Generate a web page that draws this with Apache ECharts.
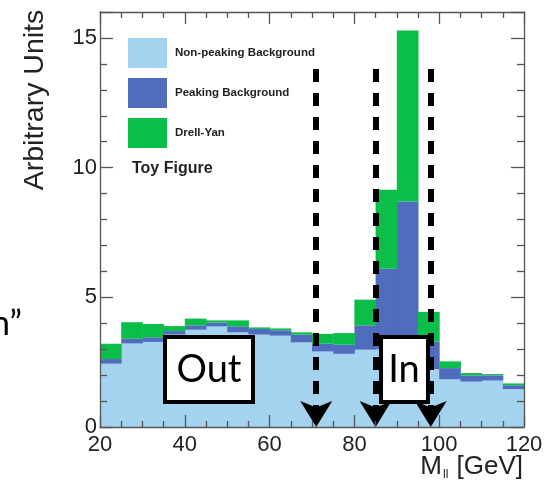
<!DOCTYPE html>
<html>
<head>
<meta charset="utf-8">
<script src="https://cdn.jsdelivr.net/npm/echarts@6/dist/echarts.min.js"></script>
<style>
html,body{margin:0;padding:0;background:#fff;}
#chart{width:552px;height:485px;}
</style>
</head>
<body>
<div id="chart"></div>
<script>
// Bin edges (GeV)
var binEdges = [20, 25, 30, 35, 40, 45, 50, 55, 60, 65, 70, 75, 80, 85, 90, 95, 100, 105, 110, 115, 120];
// Stacked contributions per bin
var nonPeaking = [2.44, 3.22, 3.28, 3.56, 3.75, 3.88, 3.65, 3.56, 3.52, 3.26, 2.91, 2.82, 2.98, 3.00, 3.00, 2.23, 1.84, 1.75, 1.79, 1.46];
var peaking    = [0.18, 0.18, 0.18, 0.14, 0.17, 0.15, 0.23, 0.22, 0.21, 0.30, 0.30, 0.35, 0.94, 3.10, 5.69, 1.07, 0.43, 0.24, 0.20, 0.15];
var drellYan   = [0.59, 0.64, 0.51, 0.19, 0.26, 0.08, 0.23, 0.06, 0.07, 0.09, 0.38, 0.45, 0.99, 3.05, 6.60, 1.14, 0.26, 0.09, 0.05, 0.07];
// Cut positions (GeV) marked by dashed arrows
var cuts = [71, 85, 98];
var cutTop = 13.8;
var seriesNames = ['Non-peaking Background', 'Peaking Background', 'Drell-Yan'];
var seriesColors = ['#a4d3f0', '#4f6dbc', '#0bbe4a'];
var xTickLabels = [20, 40, 60, 80, 100, 120];
var yTickLabels = [0, 5, 10, 15];

var comps = [nonPeaking, peaking, drellYan];
var base = nonPeaking.map(function(){return 0;});
var histSeries = comps.map(function(vals, si){
  var data = vals.map(function(v, i){
    var b = base[i];
    var t = b + v;
    base[i] = t;
    return [binEdges[i], binEdges[i+1], b, t];
  });
  return {
    type: 'custom',
    name: seriesNames[si],
    itemStyle: {color: seriesColors[si]},
    encode: {x: [0, 1], y: [2, 3]},
    data: data,
    z: 2,
    renderItem: function(params, api){
      var p0 = api.coord([api.value(0), api.value(3)]);
      var p1 = api.coord([api.value(1), api.value(2)]);
      return {
        type: 'rect',
        shape: {x: p0[0], y: p0[1], width: p1[0] - p0[0] + 0.5, height: p1[1] - p0[1]},
        style: api.style({stroke: null})
      };
    }
  };
});

var cutSeries = {
  type: 'line',
  data: [],
  silent: true,
  z: 20,
  markLine: {
    silent: true,
    symbol: ['none', 'arrow'],
    symbolSize: [24, 26],
    label: {show: false},
    lineStyle: {color: '#000', width: 6, type: [13, 11], opacity: 1},
    itemStyle: {color: '#000'},
    data: cuts.map(function(c){ return [{coord: [c, cutTop]}, {coord: [c, 0]}]; })
  }
};

var axisCol = '#555';
function xAx(pos, showLabel){
  return {
    type: 'value', min: 20, max: 120, interval: 20, position: pos, z: 10,
    axisLine: {show: true, onZero: false, lineStyle: {color: axisCol, width: 1.3}},
    axisTick: {show: true, inside: true, length: 12, lineStyle: {color: axisCol, width: 1.3}},
    minorTick: {show: true, splitNumber: 4, length: 6, lineStyle: {color: axisCol, width: 1.3}},
    splitLine: {show: false},
    axisLabel: {show: showLabel, fontSize: 22, color: '#222', margin: 7, fontFamily: 'Liberation Sans',
      formatter: function(v){ return xTickLabels.indexOf(v) >= 0 ? String(v) : ''; }}
  };
}
function yAx(pos, showLabel){
  return {
    type: 'value', min: 0, max: 16, interval: 5, position: pos, z: 10,
    axisLine: {show: true, onZero: false, lineStyle: {color: axisCol, width: 1.3}},
    axisTick: {show: true, inside: true, length: 13, lineStyle: {color: axisCol, width: 1.3}},
    minorTick: {show: true, splitNumber: 5, length: 7, lineStyle: {color: axisCol, width: 1.3}},
    splitLine: {show: false},
    axisLabel: {show: showLabel, fontSize: 22, color: '#222', margin: 3, fontFamily: 'Liberation Sans',
      showMaxLabel: false,
      formatter: function(v){ return yTickLabels.indexOf(v) >= 0 ? String(v) : ''; }}
  };
}

var chart = echarts.init(document.getElementById('chart'), null, {renderer: 'canvas'});
chart.setOption({
  animation: false,
  backgroundColor: '#fff',
  grid: {left: 100, right: 28, top: 12, bottom: 58, containLabel: false},
  xAxis: [xAx('bottom', true), xAx('top', false)],
  yAxis: [yAx('left', true), yAx('right', false)],
  legend: {
    orient: 'vertical', left: 128, top: 38, padding: 0,
    itemWidth: 39, itemHeight: 30, itemGap: 10,
    icon: 'rect',
    selectedMode: false,
    data: seriesNames,
    textStyle: {fontSize: 11.5, fontWeight: 'bold', color: '#222', fontFamily: 'Liberation Sans', padding: [0, 0, 0, 3]}
  },
  graphic: [
    {type: 'text', x: 132, y: 169, z: 50,
      style: {text: 'Toy Figure', font: 'bold 16px "Liberation Sans"', fill: '#222', textVerticalAlign: 'middle'}},
    {type: 'text', x: 35, y: 100, rotation: Math.PI / 2, z: 50,
      style: {text: 'Arbitrary Units', font: '28.5px "Liberation Sans"', fill: '#222', textAlign: 'center', textVerticalAlign: 'middle'}},
    {type: 'text', x: 523, y: 467, z: 50,
      style: {
        text: '{a|M}{b|ll}{a| [GeV]}', textAlign: 'right', textVerticalAlign: 'middle',
        rich: {
          a: {fontSize: 26, fontFamily: 'Liberation Sans', fill: '#222', color: '#222'},
          b: {fontSize: 12, fontFamily: 'Liberation Sans', fill: '#222', color: '#222', padding: [16, 1, 0, 1]}
        }
      }},
    {type: 'rect', z: 30, shape: {x: 165, y: 337, width: 88, height: 65},
      style: {fill: '#fff', stroke: '#000', lineWidth: 4}},
    {type: 'text', x: 209, y: 370, z: 31,
      style: {text: 'Out', font: '38px Lato', fill: '#000', textAlign: 'center', textVerticalAlign: 'middle'}},
    {type: 'rect', z: 30, shape: {x: 381, y: 337, width: 47, height: 65},
      style: {fill: '#fff', stroke: '#000', lineWidth: 4}},
    {type: 'text', x: 404, y: 370, z: 31,
      style: {text: 'In', font: '38px Lato', fill: '#000', textAlign: 'center', textVerticalAlign: 'middle'}},
    {type: 'text', x: -9, y: 324, z: 50,
      style: {text: 'n\u201d', font: '34px Lato', fill: '#000', textVerticalAlign: 'middle'}}
  ],
  series: histSeries.concat([cutSeries])
});
</script>
</body>
</html>
